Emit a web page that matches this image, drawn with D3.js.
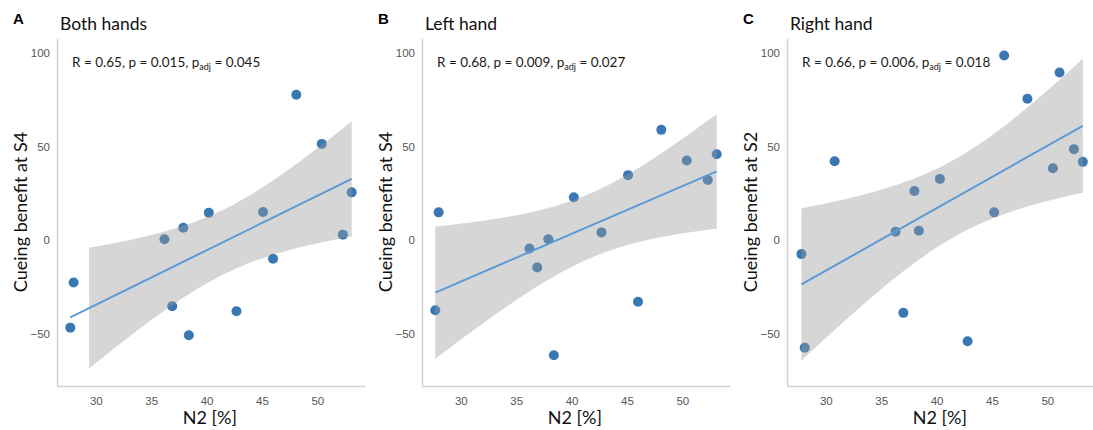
<!DOCTYPE html>
<html>
<head>
<meta charset="utf-8">
<script src="https://cdn.jsdelivr.net/npm/d3@7"></script>
<style>
  body { margin: 0; background: #fff; }
  svg { display: block; }
</style>
</head>
<body>
<div id="chart"></div>
<script>
// N2 [%] and cueing benefit per participant
const n2A = [48.1, 50.4, 53.1, 40.2, 45.1, 36.2, 37.9, 52.3, 46.0, 28.0, 36.9, 42.7, 27.7, 38.4];
const benefitA = [77.7, 51.4, 25.5, 14.6, 15.0, 0.4, 6.6, 2.9, -10, -22.7, -35.4, -38, -46.8, -50.9];

const n2B = [48.1, 50.4, 53.1, 52.3, 45.1, 40.2, 28.0, 36.2, 37.9, 42.7, 36.9, 46.0, 27.7, 38.4];
const benefitB = [58.9, 42.5, 45.9, 32.1, 34.7, 22.9, 14.8, -4.5, 0.4, 4.1, -14.6, -33, -37.5, -61.6];

const n2C = [46.1, 51.1, 48.2, 52.4, 53.2, 50.5, 30.8, 40.3, 38.0, 45.2, 36.3, 38.4, 27.8, 37.0, 42.8, 28.1];
const benefitC = [98.6, 89.6, 75.5, 48.6, 41.8, 38.4, 42.1, 32.7, 26.2, 14.8, 4.5, 5.0, -7.5, -38.9, -54.1, -57.5];

const panelLetters = ["A", "B", "C"];
const panelTitles = ["Both hands", "Left hand", "Right hand"];
const yLabels = ["Cueing benefit at S4", "Cueing benefit at S4", "Cueing benefit at S2"];
const stats = [
  ["0.65", "0.015", "0.045"],
  ["0.68", "0.009", "0.027"],
  ["0.66", "0.006", "0.018"]
];
const xTicks = [30, 35, 40, 45, 50];
const yTicks = [-50, 0, 50, 100];
// t quantile (0.975) by degrees of freedom
const tCrit = { 12: 2.179, 14: 2.145 };

const width = 1093;
const height = 430;

const svg = d3
  .select("#chart")
  .append("svg")
  .attr("width", width)
  .attr("height", height);

const panels = [
  { x: n2A, y: benefitA, left: 57, bandFrom: 29.4 },
  { x: n2B, y: benefitB, left: 422, bandFrom: null },
  { x: n2C, y: benefitC, left: 787, bandFrom: null }
];

const plotTop = 38;
const plotBottom = 386;
const plotW = 308;

panels.forEach((p, i) => {
  const g = svg.append("g").attr("transform", `translate(${p.left}, 0)`);

  const xScale = d3.scaleLinear().domain([26.5, 54.3]).range([0, plotW]);
  const yScale = d3.scaleLinear().domain([-78, 108]).range([plotBottom, plotTop]);

  // axes: light lines, no ticks
  const xAxis = g
    .append("g")
    .attr("transform", `translate(0, ${plotBottom})`)
    .call(d3.axisBottom(xScale).tickValues(xTicks).tickSize(0).tickPadding(11));
  const yAxis = g
    .append("g")
    .call(d3.axisLeft(yScale).tickValues(yTicks).tickSize(0).tickPadding(7));
  [xAxis, yAxis].forEach((ax) => {
    ax.select(".domain").attr("stroke", "#d2d2d2").attr("stroke-width", 1.5);
    ax.selectAll("text")
      .attr("fill", "#555")
      .attr("font-family", "'Liberation Sans', Arial, sans-serif")
      .attr("font-size", "11.5px");
  });

  // linear fit + 95% CI
  const n = p.x.length;
  const mx = d3.mean(p.x);
  const my = d3.mean(p.y);
  const sxx = d3.sum(p.x, (d) => (d - mx) ** 2);
  const sxy = d3.sum(p.x, (d, k) => (d - mx) * (p.y[k] - my));
  const slope = sxy / sxx;
  const icpt = my - slope * mx;
  const sse = d3.sum(p.x, (d, k) => (p.y[k] - (icpt + slope * d)) ** 2);
  const s = Math.sqrt(sse / (n - 2));
  const t = tCrit[n - 2];
  const xmin = d3.min(p.x);
  const xmax = d3.max(p.x);
  const bandStart = p.bandFrom || xmin;
  const grid = d3.range(0, 81).map((k) => bandStart + ((xmax - bandStart) * k) / 80);
  const band = grid.map((x) => {
    const fit = icpt + slope * x;
    const se = s * Math.sqrt(1 / n + (x - mx) ** 2 / sxx);
    return { x, lo: fit - t * se, hi: fit + t * se };
  });

  // points
  g.append("g")
    .selectAll("circle")
    .data(p.x.map((d, k) => [d, p.y[k]]))
    .join("circle")
    .attr("cx", (d) => xScale(d[0]))
    .attr("cy", (d) => yScale(d[1]))
    .attr("r", 5)
    .attr("fill", "#3a78b4");

  g.append("path")
    .datum(band)
    .attr("fill", "#999999")
    .attr("fill-opacity", 0.4)
    .attr(
      "d",
      d3
        .area()
        .x((d) => xScale(d.x))
        .y0((d) => yScale(d.lo))
        .y1((d) => yScale(d.hi))
    );

  g.append("line")
    .attr("x1", xScale(xmin))
    .attr("y1", yScale(icpt + slope * xmin))
    .attr("x2", xScale(xmax))
    .attr("y2", yScale(icpt + slope * xmax))
    .attr("stroke", "#5b9bd5")
    .attr("stroke-width", 2);

  // stats annotation
  const st = g
    .append("text")
    .attr("x", 15)
    .attr("y", 67)
    .attr("font-family", "Lato, sans-serif")
    .attr("font-size", "13.5px")
    .attr("fill", "#1a1a1a");
  st.append("tspan").text(`R = ${stats[i][0]}, p = ${stats[i][1]}, p`);
  st.append("tspan").attr("font-size", "9px").attr("dy", 3).text("adj");
  st.append("tspan").attr("dy", -3).text(` = ${stats[i][2]}`);

  // panel letter & title
  svg
    .append("text")
    .attr("x", p.left - 44)
    .attr("y", 24)
    .attr("font-family", "'Liberation Sans', Arial, sans-serif")
    .attr("font-weight", "bold")
    .attr("font-size", "15px")
    .text(panelLetters[i]);
  svg
    .append("text")
    .attr("x", p.left + 3)
    .attr("y", 30)
    .attr("font-family", "Lato, sans-serif")
    .attr("font-size", "17.5px")
    .attr("fill", "#111")
    .text(panelTitles[i]);

  // axis titles
  g.append("text")
    .attr("transform", "rotate(-90)")
    .attr("x", -(plotTop + plotBottom) / 2)
    .attr("y", -30)
    .attr("text-anchor", "middle")
    .attr("font-family", "Lato, sans-serif")
    .attr("font-size", "18px")
    .attr("fill", "#111")
    .text(yLabels[i]);
  g.append("text")
    .attr("x", xScale(40.3))
    .attr("y", 424)
    .attr("text-anchor", "middle")
    .attr("font-family", "Lato, sans-serif")
    .attr("font-size", "18px")
    .attr("fill", "#111")
    .text("N2 [%]");
});
</script>
</body>
</html>
